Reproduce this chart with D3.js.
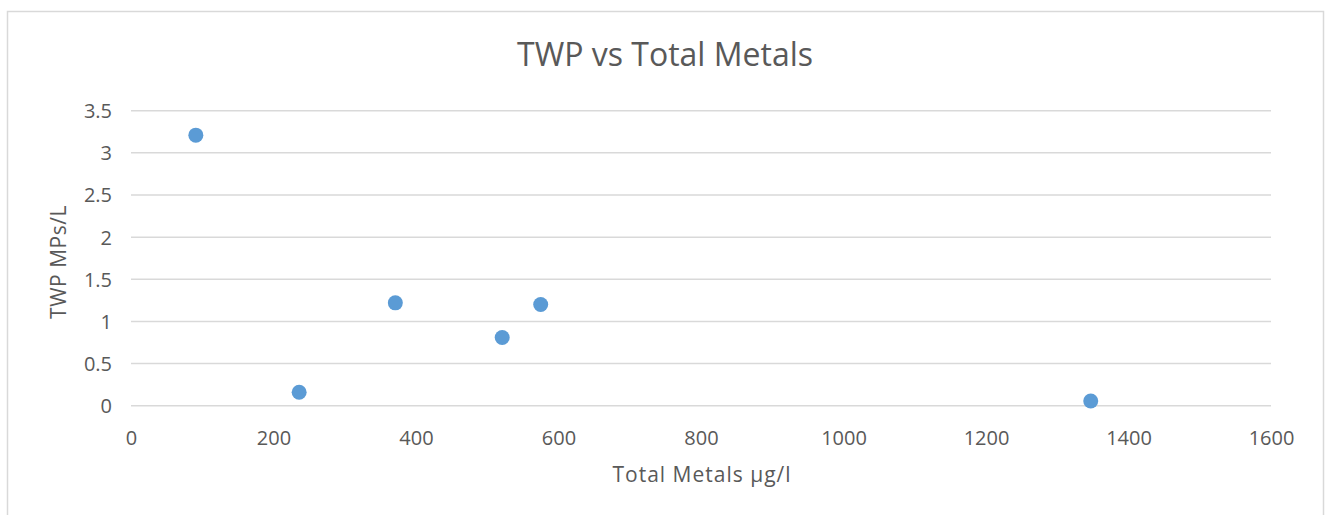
<!DOCTYPE html>
<html><head><meta charset="utf-8">
<script src="https://cdn.jsdelivr.net/npm/d3@7"></script>
<style>body{margin:0;background:#fff}svg{display:block}text{font-family:"Open Sans","Noto Sans",sans-serif;fill:#595959}</style>
</head><body>
<svg id="c" width="1329" height="515"></svg>
<script>
const xValues = [91, 236, 371, 521, 575, 1347];
const yValues = [3.21, 0.16, 1.22, 0.81, 1.20, 0.056];
const xTicks = [0, 200, 400, 600, 800, 1000, 1200, 1400, 1600];
const yTicks = [0, 0.5, 1, 1.5, 2, 2.5, 3, 3.5];
const title = "TWP vs Total Metals";
const xTitle = "Total Metals µg/l";
const yTitle = "TWP MPs/L";

const svg = d3.select("#c");
svg.append("rect").attr("x",7.5).attr("y",11.5).attr("width",1316).attr("height",520)
  .attr("fill","#fff").attr("stroke","#d9d9d9").attr("stroke-width",1.5);

const x = d3.scaleLinear().domain([0,1600]).range([131,1271]);
const y = d3.scaleLinear().domain([0,3.5]).range([405.7,110.7]);

const g = svg.append("g");
g.selectAll("line.grid").data(yTicks).join("line").attr("class","grid")
  .attr("x1",x(0)).attr("x2",x(1600)).attr("y1",d=>y(d)).attr("y2",d=>y(d))
  .attr("stroke","#d9d9d9").attr("stroke-width",1.5);

const yAxis = d3.axisLeft(y).tickValues(yTicks).tickSize(0).tickPadding(0).tickFormat(d=>String(d));
const ya = svg.append("g").attr("transform",`translate(112,0)`).call(yAxis);
ya.select(".domain").remove();
ya.selectAll("text").attr("font-size",20).attr("fill","#595959").attr("dy","0.35em").attr("x",0).attr("text-anchor","end");

const xAxis = d3.axisBottom(x).tickValues(xTicks).tickSize(0).tickPadding(0).tickFormat(d=>String(d));
const xa = svg.append("g").attr("transform",`translate(0,445)`).call(xAxis);
xa.select(".domain").remove();
xa.selectAll("text").attr("font-size",20).attr("fill","#595959").attr("y",0).attr("dy",0);

svg.append("g").selectAll("circle").data(xValues.map((v,i)=>[v,yValues[i]])).join("circle")
  .attr("cx",d=>x(d[0])).attr("cy",d=>y(d[1])).attr("r",7.5).attr("fill","#5b9bd5");

svg.append("text").attr("x",665).attr("y",66).attr("text-anchor","middle")
  .attr("font-size",32).text(title);
svg.append("text").attr("x",702).attr("y",482).attr("text-anchor","middle")
  .attr("font-size",21).attr("letter-spacing",1).text(xTitle);
svg.append("text").attr("transform","translate(66,262) rotate(-90)").attr("text-anchor","middle")
  .attr("font-size",21).attr("letter-spacing",0.5).text(yTitle);
</script>
</body></html>
